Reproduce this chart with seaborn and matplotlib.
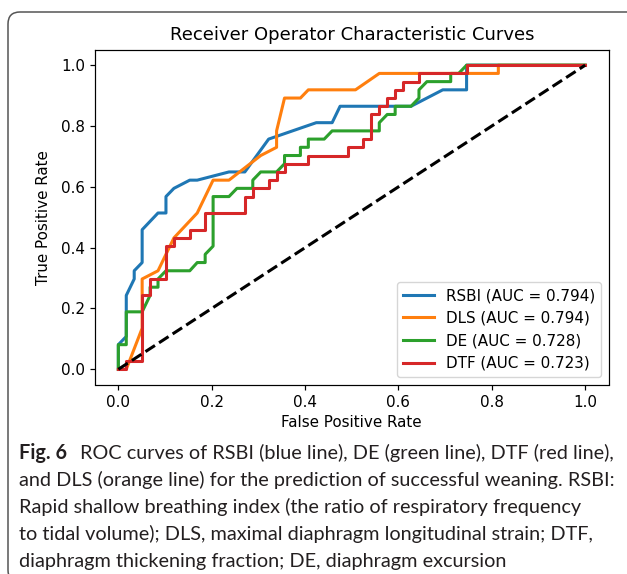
"""   ROC curves of four weaning predictors, with the figure caption below   """
import matplotlib
matplotlib.use('Agg')
import matplotlib.pyplot as plt
from matplotlib.patches import FancyBboxPatch
from matplotlib.transforms import IdentityTransform
import pandas as pd
import seaborn as sns

# ~~~~~~~  Data (ROC vertices)  ~~~~~~~ #
rsbi_fpr = [0, 0, 0.017, 0.017, 0.034, 0.034, 0.051, 0.051, 0.085, 0.102, 0.102, 0.119,
            0.153, 0.169, 0.237, 0.271, 0.322, 0.424, 0.458, 0.475, 0.627, 0.695,
            0.746, 0.746, 1.0]
rsbi_tpr = [0, 0.081, 0.108, 0.243, 0.297, 0.324, 0.351, 0.459, 0.514, 0.514, 0.568, 0.595,
            0.622, 0.622, 0.649, 0.649, 0.757, 0.811, 0.811, 0.865, 0.865, 0.919,
            0.919, 1.0, 1.0]

dls_fpr = [0, 0.017, 0.051, 0.051, 0.085, 0.119, 0.169, 0.203, 0.237, 0.305, 0.339, 0.339,
           0.356, 0.390, 0.407, 0.508, 0.559, 0.814, 0.814, 1.0]
dls_tpr = [0, 0, 0.135, 0.297, 0.324, 0.432, 0.514, 0.622, 0.622, 0.703, 0.730, 0.784,
           0.892, 0.892, 0.919, 0.919, 0.973, 0.973, 1.0, 1.0]

de_fpr = [0, 0, 0.017, 0.017, 0.051, 0.068, 0.068, 0.085, 0.085, 0.102, 0.153, 0.169,
          0.186, 0.186, 0.203, 0.203, 0.237, 0.254, 0.288, 0.288, 0.305, 0.339, 0.356,
          0.356, 0.390, 0.390, 0.407, 0.407, 0.441, 0.458, 0.559, 0.559, 0.576, 0.593,
          0.593, 0.627, 0.644, 0.644, 0.661, 0.712, 0.712, 0.729, 0.746, 1.0]
de_tpr = [0, 0.081, 0.081, 0.189, 0.189, 0.243, 0.270, 0.270, 0.297, 0.324, 0.324, 0.351,
          0.351, 0.378, 0.405, 0.568, 0.568, 0.595, 0.595, 0.622, 0.649, 0.649, 0.676,
          0.703, 0.703, 0.730, 0.730, 0.757, 0.757, 0.784, 0.784, 0.811, 0.838, 0.838,
          0.865, 0.865, 0.892, 0.919, 0.946, 0.946, 0.973, 0.973, 1.0, 1.0]

dtf_fpr = [0, 0.017, 0.017, 0.051, 0.051, 0.068, 0.068, 0.102, 0.102, 0.119, 0.119, 0.153,
           0.153, 0.186, 0.186, 0.271, 0.271, 0.288, 0.288, 0.322, 0.322, 0.339, 0.339,
           0.356, 0.356, 0.407, 0.407, 0.492, 0.492, 0.525, 0.525, 0.542, 0.542, 0.559,
           0.559, 0.576, 0.576, 0.593, 0.593, 0.610, 0.610, 0.644, 0.644, 0.746, 0.746, 1.0]
dtf_tpr = [0, 0, 0.027, 0.027, 0.243, 0.243, 0.297, 0.297, 0.405, 0.405, 0.432, 0.432,
           0.459, 0.459, 0.514, 0.514, 0.568, 0.568, 0.595, 0.595, 0.622, 0.622, 0.649,
           0.649, 0.676, 0.676, 0.703, 0.703, 0.730, 0.730, 0.757, 0.757, 0.838, 0.838,
           0.865, 0.865, 0.892, 0.892, 0.919, 0.919, 0.946, 0.946, 0.973, 0.973, 1.0, 1.0]

names = ['RSBI', 'DLS', 'DE', 'DTF']
auc_values = [0.794, 0.794, 0.728, 0.723]
colors = ['#1f77b4', '#ff7f0e', '#2ca02c', '#d62728']

caption_lines = [
    'ROC curves of RSBI (blue line), DE (green line), DTF (red line),',
    'and DLS (orange line) for the prediction of successful weaning. RSBI:',
    'Rapid shallow breathing index (the ratio of respiratory frequency',
    'to tidal volume); DLS, maximal diaphragm longitudinal strain; DTF,',
    'diaphragm thickening fraction; DE, diaphragm excursion',
]

# ~~~~~~~  Build long table for seaborn  ~~~~~~~ #
frames = []
for name, auc, fpr, tpr in zip(names, auc_values,
                               [rsbi_fpr, dls_fpr, de_fpr, dtf_fpr],
                               [rsbi_tpr, dls_tpr, de_tpr, dtf_tpr]):
    frames.append(pd.DataFrame({'fpr': fpr, 'tpr': tpr,
                                'curve': f'{name} (AUC = {auc:.3f})'}))
df = pd.concat(frames, ignore_index=True)
hue_order = [f'{n} (AUC = {a:.3f})' for n, a in zip(names, auc_values)]

# ~~~~~~~  Style  ~~~~~~~ #
plt.rcParams.update({
    'font.family': ['DejaVu Sans'],
    'font.size': 10.9,
    'axes.titlesize': 13,
    'axes.labelsize': 10.9,
    'xtick.labelsize': 10.9,
    'ytick.labelsize': 10.9,
    'legend.fontsize': 10.9,
    'axes.linewidth': 0.87,
    'xtick.major.size': 3.8, 'ytick.major.size': 3.8,
    'xtick.major.width': 0.87, 'ytick.major.width': 0.87,
    'legend.framealpha': 0.8,
})

W, H = 627, 574
fig = plt.figure(figsize=(W / 100, H / 100), dpi=100)
ax = fig.add_axes([95 / W, 1 - 384.5 / H, (608.5 - 95) / W, (384.5 - 50) / H])

sns.lineplot(data=df, x='fpr', y='tpr', hue='curve', hue_order=hue_order,
             palette=colors, estimator=None, sort=False, linewidth=2.2, ax=ax)
ax.plot([0, 1], [0, 1], color='black', linestyle='--', linewidth=2.2)

ax.set_xlim(-0.05, 1.05)
ax.set_ylim(-0.05, 1.05)
ax.set_xticks([0, 0.2, 0.4, 0.6, 0.8, 1.0])
ax.set_yticks([0, 0.2, 0.4, 0.6, 0.8, 1.0])
ax.set_xlabel('False Positive Rate', labelpad=4)
ax.set_ylabel('True Positive Rate', labelpad=7)
ax.set_title('Receiver Operator Characteristic Curves', pad=7)
ax.legend(loc='lower right', title=None)

# ~~~~~~~  Caption  ~~~~~~~ #
renderer = fig.canvas.get_renderer()
cap_family = ['Lato', 'DejaVu Sans']
probe = fig.text(0, 0, caption_lines[1], fontsize=10, family=cap_family)
probe_w = probe.get_window_extent(renderer).width
probe.remove()
cap_size = 10 * (616 - 19) / probe_w

line_y = [453, 480, 507, 534, 561]
x0 = 19
bold = fig.text(x0 / W, 1 - line_y[0] / H, 'Fig. 6', fontsize=cap_size, family=cap_family,
                fontweight='bold', va='center', color='#231f20')
bw = bold.get_window_extent(renderer).width
fig.text((x0 + bw + 13) / W, 1 - line_y[0] / H, caption_lines[0], fontsize=cap_size,
         family=cap_family, va='center', color='#231f20')
for text, yy in zip(caption_lines[1:], line_y[1:]):
    fig.text(x0 / W, 1 - yy / H, text, fontsize=cap_size, family=cap_family,
             va='center', color='#231f20')

# rounded frame around the whole figure (open to the right / bottom edge)
frame = FancyBboxPatch((8, -8), 660, H - 12 + 8, boxstyle='round,pad=0,rounding_size=12',
                       transform=IdentityTransform(), fill=False,
                       edgecolor='#555555', linewidth=1.1)
fig.patches.append(frame)

fig.savefig('out.png', dpi=100)
